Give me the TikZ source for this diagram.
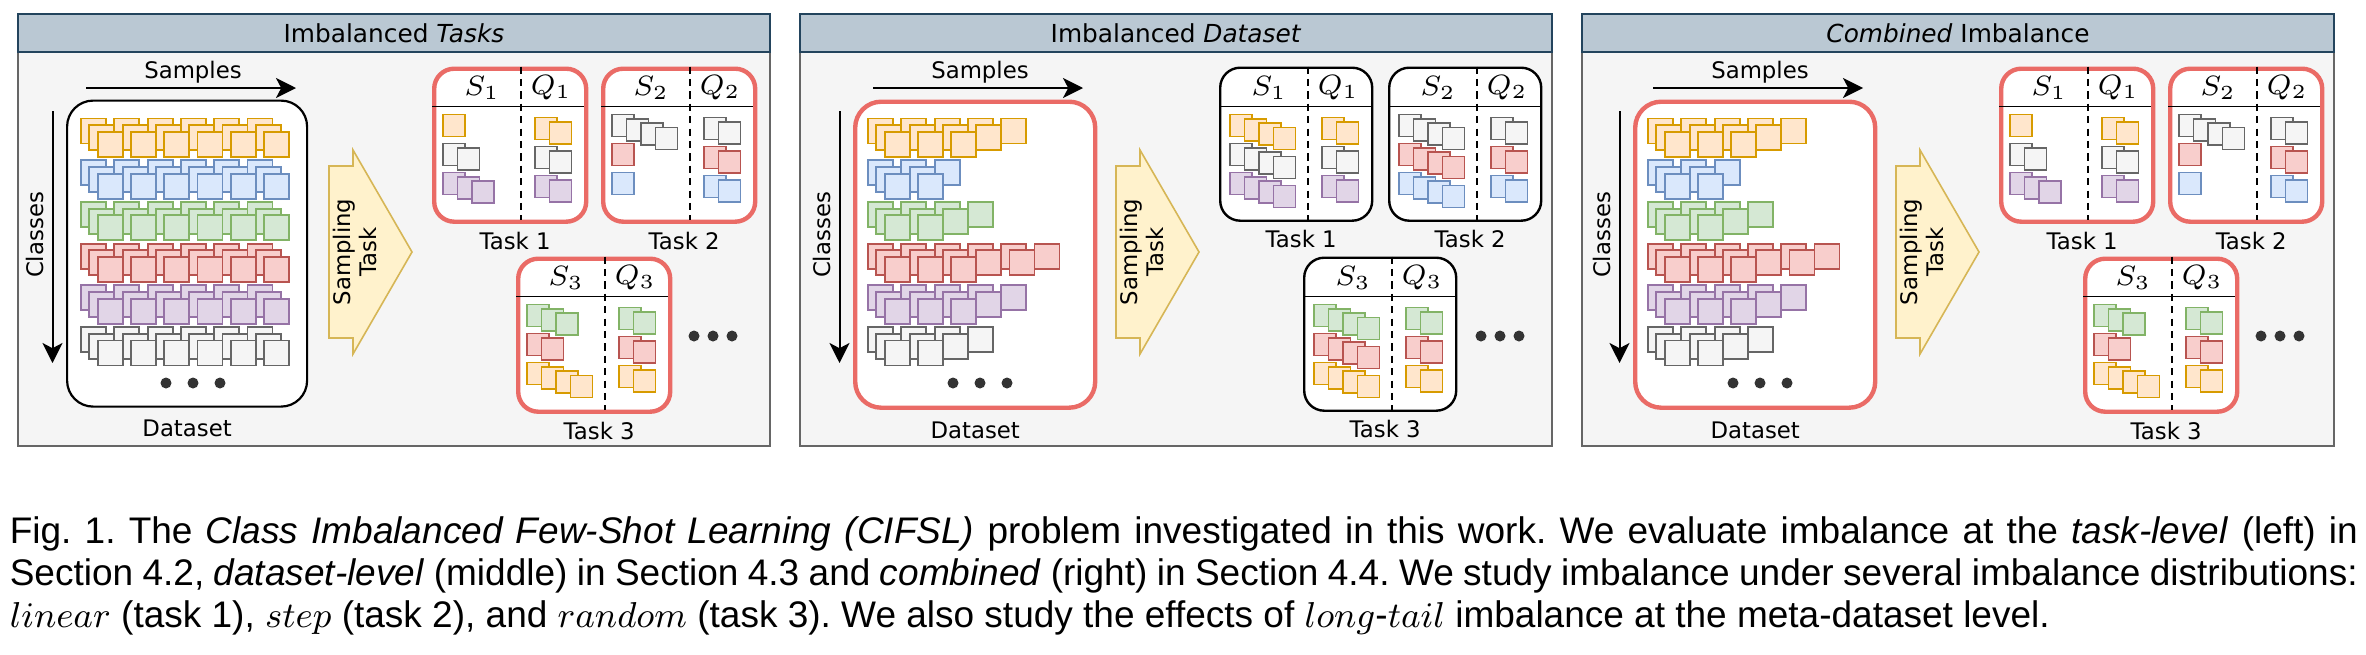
\documentclass[tikz,border=0pt]{standalone}
\usepackage{fontspec}
\setmainfont{Liberation Sans}
\newfontfamily\dv{DejaVu Sans}
\usetikzlibrary{positioning,arrows.meta}
\definecolor{orngf}{HTML}{FFE6CC}\definecolor{orngd}{HTML}{D79B00}
\definecolor{bluf}{HTML}{DAE8FC}\definecolor{blud}{HTML}{6C8EBF}
\definecolor{grnf}{HTML}{D5E8D4}\definecolor{grnd}{HTML}{82B366}
\definecolor{rdf}{HTML}{F8CECC}\definecolor{rdd}{HTML}{B85450}
\definecolor{prpf}{HTML}{E1D5E7}\definecolor{prpd}{HTML}{9673A6}
\definecolor{gryf}{HTML}{F5F5F5}\definecolor{gryd}{HTML}{666666}
\definecolor{hdrf}{HTML}{BAC8D3}\definecolor{hdrd}{HTML}{23445D}
\definecolor{arrf}{HTML}{FFF2CC}\definecolor{arrd}{HTML}{D6B656}
\definecolor{redb}{HTML}{EA6B66}
\definecolor{dotc}{HTML}{333333}

% rows of the dataset: colour/layer 0/layer 1/layer 2
\def\fullset{orng/6/6/6,blu/6/6/6,grn/6/6/6,rd/6/6/6,prp/6/6/6,gry/6/6/6}
\def\skewset{orng/5/4/3,blu/3/2/2,grn/4/3/2,rd/6/5/3,prp/5/4/3,gry/4/3/2}

% small squares of a task: x, y, colour/count
\newcommand{\squares}[3]{%
\foreach \cl/\nn [count=\ri from 0] in {#3}
  \foreach \k in {1,...,\nn}
    \draw[\cl] ({#1+(\k-1)*14.5},{#2+\ri*29+(\k-1)*4.3}) rectangle +(22,22);
}

% task box: name, x, y, number, box style, S list, Q list
\newcommand{\task}[7]{%
\node[#5, anchor=north west] (#1) at (#2,#3) {};
\draw[hline] (#2,{#3+40}) -- ({#2+152},{#3+40});
\draw[dline] ({#2+89},#3) -- ({#2+89},{#3+153});
\node[sym] (#1s) at ({#2+50},{#3+21}) {$S_#4$};
\node[sym] (#1q) at ({#2+119},{#3+21}) {$Q_#4$};
\squares{#2+11}{#3+48}{#6}
\squares{#2+103}{#3+51}{#7}
\node[below=1.85pt of #1, xshift=1.25pt] (#1t) {Task #4};
}

% panel: prefix, x, dataset style, dataset rows, task style, S1, S2, S3
\newcommand{\panel}[8]{%
\coordinate (#1s0) at ({#2+73},88);
\coordinate (#1s1) at ({#2+283},88);
\draw[arr] (#1s0) -- (#1s1);
\node (#1smp) at ({#2+180},72) {Samples};
\coordinate (#1c0) at ({#2+39.5},111);
\coordinate (#1c1) at ({#2+39.5},363);
\draw[arr] (#1c0) -- (#1c1);
\node[rotate=90] (#1cls) at ({#2+22},235) {Classes};
\node[#3, anchor=north west] (#1d) at ({#2+53},99.5) {};
\foreach \cl/\ra/\rb/\rc [count=\ri from 0] in #4
  \foreach \ly/\nn in {0/\ra,1/\rb,2/\rc}
    \foreach \k in {1,...,\nn}
      \draw[\cl] ({#2+68+(\k-1)*33.3+\ly*8.3},{118.5+\ri*41.7+\ly*6.7}) rectangle +(25,25);
\foreach \dx in {153,180,207} \fill[dotc] ({#2+\dx},383) circle (5.5);
\node[below=2.85pt of #1d] (#1lbl) {Dataset};
\draw[samp] ({#2+316},166) -- ({#2+340},166) -- ({#2+340},150) -- ({#2+399},252)
  -- ({#2+340},354) -- ({#2+340},338) -- ({#2+316},338) -- cycle;
\node[rotate=90, align=center] (#1sam) at ({#2+342},252) {Sampling\\Task};
\task{#11}{#2+419}{66.5}{1}{#5}{#6}{orng/2,gry/2,prp/2}
\task{#12}{#2+588}{66.5}{2}{#5}{#7}{gry/2,rd/2,blu/2}
\task{#13}{#2+503}{256.5}{3}{#5}{#8}{grn/2,rd/2,orng/2}
\foreach \dx in {681,700,719} \fill[dotc] ({#2+\dx},336) circle (5.5);
}

\begin{document}
\begin{tikzpicture}[x=.25pt, y=-.25pt, font=\dv\fontsize{5.7}{6.6}\selectfont,
  every node/.style={inner sep=0pt},
  orng/.style={draw=orngd, fill=orngf, line width=.45pt},
  blu/.style={draw=blud, fill=bluf, line width=.45pt},
  grn/.style={draw=grnd, fill=grnf, line width=.45pt},
  rd/.style={draw=rdd, fill=rdf, line width=.45pt},
  prp/.style={draw=prpd, fill=prpf, line width=.45pt},
  gry/.style={draw=gryd, fill=gryf, line width=.45pt},
  body/.style={draw=gryd, fill=gryf, line width=.5pt},
  hdr/.style={draw=hdrd, fill=hdrf, line width=.5pt},
  ttl/.style={font=\dv\fontsize{6.2}{7.4}\selectfont},
  sym/.style={font=\fontsize{7.2}{8.6}\selectfont},
  arr/.style={-{Stealth[length=5pt,width=5pt,inset=1.3pt]}, line width=.5pt},
  samp/.style={draw=arrd, fill=arrf, line width=.4pt},
  tred/.style={draw=redb, line width=1.1pt, fill=white, rounded corners=5pt,
    minimum width=38pt, minimum height=38.25pt},
  tblk/.style={draw=black, line width=.6pt, fill=white, rounded corners=5pt,
    minimum width=38pt, minimum height=38.25pt},
  dred/.style={draw=redb, line width=1.1pt, fill=white, rounded corners=6.5pt,
    minimum width=60pt, minimum height=76.5pt},
  dblk/.style={draw=black, line width=.55pt, fill=white, rounded corners=6.5pt,
    minimum width=60pt, minimum height=76.5pt},
  hline/.style={line width=.45pt},
  dline/.style={line width=.5pt, dash pattern=on 1.8pt off 1.3pt},
  captext/.style={font=\normalfont\fontsize{9.25}{10.5}\selectfont\frenchspacing, anchor=base west}]
\useasboundingbox (0,0) rectangle (2366,654);

\foreach \fx/\ttltext in {18/{Imbalanced \textit{Tasks}},800/{Imbalanced \textit{Dataset}},1582/{\textit{Combined} Imbalance}}{
  \draw[body] (\fx,14) rectangle ({\fx+752},446);
  \draw[hdr] (\fx,14) rectangle ({\fx+752},52);
  \node[ttl] (h\fx) at ({\fx+376},33) {\ttltext};
}

\panel{a}{13}{dblk}{\fullset}{tred}{orng/1,gry/2,prp/3}{gry/4,rd/1,blu/1}{grn/3,rd/2,orng/4}
\panel{b}{800}{dred}{\skewset}{tblk}{orng/4,gry/4,prp/4}{gry/4,rd/4,blu/4}{grn/4,rd/4,orng/4}
\panel{c}{1580}{dred}{\skewset}{tred}{orng/1,gry/2,prp/3}{gry/4,rd/1,blu/1}{grn/3,rd/2,orng/4}

% caption
\node[captext] (cap1) at (9,543) {\makebox[587pt][s]{Fig. 1. The \textit{Class Imbalanced Few-Shot Learning (CIFSL)} problem investigated in this work. We evaluate imbalance at the \textit{task-level} (left) in}};
\node[captext] (cap2) at (9,585) {\makebox[587pt][s]{Section 4.2, \textit{dataset-level} (middle) in Section 4.3 and \textit{combined} (right) in Section 4.4. We study imbalance under several imbalance distributions:}};
\node[captext] (cap3) at (9,627) {$linear$ (task 1), $step$ (task 2), and $random$ (task 3). We also study the effects of $long$-$tail$ imbalance at the meta-dataset level.};
\end{tikzpicture}
\end{document}
